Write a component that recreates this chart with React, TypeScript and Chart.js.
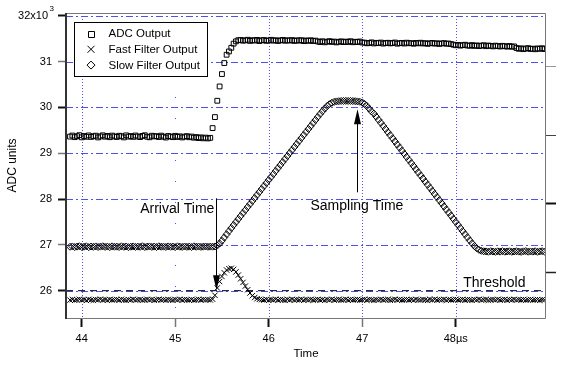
import React, { useEffect, useRef } from 'react';
import { Chart, registerables } from 'chart.js';

Chart.register(...registerables);

const FONT = '"Liberation Sans", Arial, Helvetica, sans-serif';
const GRID_BLUE = '#5050f0';

// sample clock of the digitiser (µs)
const T_START = 43.875;
const T_STEP = 0.025;

const ADC_OUTPUT = [
  29362, 29385, 29350, 29371, 29393, 29346, 29375, 29358, 29388, 29355,
  29370, 29382, 29344, 29366, 29390, 29360, 29376, 29349, 29384, 29365,
  29354, 29380, 29369, 29345, 29389, 29361, 29374, 29356, 29386, 29364,
  29351, 29377, 29391, 29359, 29347, 29381, 29366, 29372, 29353, 29383,
  29360, 29342, 29375, 29363, 29350, 29379, 29355, 29368, 29344, 29361,
  29372, 29348, 29363, 29338, 29352, 29330, 29345, 29325, 29340, 29322,
  29335,
  29548, 29788, 30144, 30456, 30727, 30967, 31148, 31220, 31300, 31390, 31440, 31465,
  31470, 31455, 31462, 31475, 31450, 31466, 31458, 31472, 31447, 31463,
  31469, 31452, 31460, 31474, 31456, 31465, 31449, 31461, 31471, 31454,
  31463, 31458, 31468, 31450, 31462, 31457, 31466, 31445, 31460, 31452,
  31464, 31448, 31456,
  31438, 31425, 31442, 31420, 31433, 31445, 31428, 31436, 31418, 31431,
  31440, 31424, 31435, 31427, 31443, 31421, 31432, 31426, 31437, 31415,
  31412, 31398, 31405, 31418, 31395, 31408, 31401, 31414, 31392, 31404,
  31409, 31396, 31403, 31415, 31390, 31400, 31407, 31393, 31411, 31399,
  31402, 31388, 31406, 31397, 31410, 31394, 31401, 31386, 31398, 31405,
  31391, 31399, 31384, 31396, 31402, 31388, 31393, 31380,
  31368, 31355, 31362, 31348, 31357, 31366, 31350, 31344, 31359, 31341,
  31352, 31338, 31347, 31356, 31335, 31349, 31342, 31331, 31346, 31337,
  31328, 31343, 31334, 31325, 31339, 31322, 31330,
  31295, 31278, 31288, 31270, 31284, 31292, 31274, 31281, 31268, 31286,
  31277, 31290, 31272,
];

const FAST_FILTER = [
  25795, 25808, 25790, 25802, 25812, 25797, 25805, 25788, 25810, 25799,
  25793, 25806, 25801, 25814, 25796, 25804, 25791, 25809, 25798, 25803,
  25807, 25794, 25811, 25800, 25789, 25805, 25798, 25812, 25795, 25803,
  25808, 25792, 25801, 25810, 25797, 25806, 25790, 25804, 25813, 25799,
  25802, 25795, 25809, 25800, 25791, 25807, 25798, 25811, 25794, 25805,
  25801, 25796, 25808, 25790, 25803, 25812, 25797, 25806, 25799, 25804,
  25800,
  25815, 25900, 26060, 26200, 26310, 26390, 26450, 26480, 26490, 26465,
  26410, 26340, 26260, 26180, 26100, 26020, 25950, 25890, 25850, 25825,
  25810,
  25803, 25796, 25810, 25792, 25805, 25799, 25812, 25794, 25807, 25801,
  25789, 25808, 25797, 25811, 25795, 25804, 25800, 25813, 25791, 25806,
  25798, 25809, 25793, 25802, 25810, 25796, 25805, 25790, 25807, 25799,
  25812, 25794, 25803, 25808, 25797, 25801, 25811, 25792, 25806, 25798,
  25804, 25809, 25795, 25800, 25813, 25793, 25807, 25802, 25790, 25805,
  25799, 25810, 25796, 25804, 25808, 25791, 25801, 25812, 25797, 25806,
  25794, 25803, 25809, 25798, 25805, 25792, 25811, 25800, 25796, 25807,
  25802, 25789, 25808, 25799, 25813, 25795, 25804, 25801, 25810, 25793,
  25806, 25798, 25803, 25811, 25797, 25800, 25809, 25794, 25805, 25802,
  25790, 25807, 25799, 25812, 25796, 25804, 25808, 25793, 25801, 25806,
  25798, 25810, 25795, 25803, 25809, 25792, 25805, 25800, 25811, 25797,
  25804, 25799, 25807, 25794, 25802, 25808, 25796, 25801, 25806, 25793,
  25803, 25798,
];

const SLOW_FILTER = [
  26958, 26965, 26952, 26962, 26970, 26955, 26960, 26968, 26950, 26963,
  26957, 26966, 26954, 26961, 26969, 26956, 26963, 26951, 26967, 26959,
  26962, 26953, 26968, 26958, 26964, 26950, 26960, 26966, 26955, 26962,
  26957, 26970, 26953, 26961, 26965, 26956, 26963, 26952, 26968, 26959,
  26961, 26954, 26966, 26958, 26963, 26951, 26967, 26960, 26955, 26964,
  26957, 26962, 26953, 26968, 26959, 26963, 26956, 26961, 26965, 26958,
  26962, 26960,
  26965, 26985, 27030, 27090, 27160, 27230, 27300, 27367, 27433, 27498,
  27564, 27629, 27695, 27760, 27826, 27891, 27957, 28022, 28088, 28153,
  28219, 28284, 28350, 28415, 28481, 28546, 28612, 28677, 28743, 28808,
  28874, 28939, 29005, 29070, 29136, 29201, 29267, 29332, 29398, 29463,
  29529, 29594, 29660, 29725, 29791, 29856, 29915, 29975, 30030, 30070,
  30100, 30120, 30130, 30135, 30140, 30140, 30142, 30140, 30141, 30138,
  30135, 30130, 30122, 30108, 30075, 30030, 29972, 29910, 29864, 29797,
  29729, 29662, 29594, 29527, 29459, 29392, 29324, 29257, 29189, 29122,
  29054, 28987, 28919, 28852, 28784, 28717, 28649, 28582, 28514, 28447,
  28379, 28312, 28244, 28177, 28109, 28042, 27974, 27907, 27839, 27772,
  27704, 27637, 27569, 27502, 27434, 27367, 27299, 27232, 27164, 27097,
  27035, 26975, 26925, 26890, 26870, 26860,
  26857, 26850, 26862, 26854, 26848, 26859, 26852, 26863, 26851, 26856,
  26860, 26849, 26855, 26861, 26853, 26847, 26858, 26864, 26850, 26856,
  26852, 26860, 26848, 26857, 26862, 26853,
];

const SERIES_LABELS = ['ADC Output', 'Fast Filter Output', 'Slow Filter Output'];
const THRESHOLD = 26000;
const X_TICKS = [44, 45, 46, 47, 48];
const Y_TICKS = [26000, 27000, 28000, 29000, 30000, 31000, 32000];
const RIGHT_TICKS = [1, 2, 3, 4];
const X_RANGE = [43.832, 48.966];
const Y_RANGE = [25404, 32059];
const RIGHT_RANGE = [0.333, 4.784];

// annotations in data coordinates
const ARRIVAL = { t: 45.44, from: 28016, to: 26010, text: 'Arrival Time', textY: 27690 };
const SAMPLING = { t: 46.948, from: 28147, to: 29958, text: 'Sampling Time', textT: 46.447, textY: 27760 };
const THRESHOLD_TEXT = { text: 'Threshold', t: 48.08, y: 26070 };

const times = ADC_OUTPUT.map((_, i) => +(T_START + i * T_STEP).toFixed(3));
const toPoints = (vals: number[]) => vals.map((v, i) => ({ x: times[i], y: v }));

function drawArrow(ctx: CanvasRenderingContext2D, x: number, yTail: number, yTip: number) {
  const dir = yTip > yTail ? 1 : -1;
  const xx = Math.round(x) + 0.5;
  ctx.strokeStyle = '#000';
  ctx.lineWidth = 1;
  ctx.setLineDash([]);
  ctx.beginPath();
  ctx.moveTo(xx, yTail);
  ctx.lineTo(xx, yTip - dir * 10);
  ctx.stroke();
  ctx.fillStyle = '#000';
  ctx.beginPath();
  ctx.moveTo(xx, yTip);
  ctx.lineTo(xx - 3.5, yTip - dir * 15);
  ctx.lineTo(xx + 3.5, yTip - dir * 15);
  ctx.closePath();
  ctx.fill();
}

// grid lines drawn from the scales' own tick positions
const gridPlugin = {
  id: 'dashGrid',
  beforeDatasetsDraw(chart: any) {
    const { ctx, chartArea } = chart;
    const { left, top, right, bottom } = chartArea;
    const xs = chart.scales.x;
    const ys = chart.scales.y;
    ctx.save();
    ctx.beginPath();
    ctx.rect(left, top, right - left, bottom - top);
    ctx.clip();
    ctx.strokeStyle = GRID_BLUE;
    ctx.lineWidth = 1;
    ctx.setLineDash([7, 3, 2, 3]);
    ctx.beginPath();
    ys.ticks.forEach((t: any) => {
      const py = Math.round(ys.getPixelForValue(t.value)) + 0.5;
      ctx.moveTo(left, py);
      ctx.lineTo(right, py);
    });
    ctx.stroke();
    xs.ticks.forEach((t: any) => {
      const px = Math.round(xs.getPixelForValue(t.value)) + 0.5;
      ctx.setLineDash(t.value === 45 ? [1, 20] : [1, 2]);
      ctx.beginPath();
      ctx.moveTo(px, top);
      ctx.lineTo(px, bottom);
      ctx.stroke();
    });
    ctx.restore();
  },
};

const overlayPlugin = {
  id: 'overlay',
  afterDraw(chart: any) {
    const { ctx, chartArea } = chart;
    const { left, top, right, bottom } = chartArea;
    const xs = chart.scales.x;
    const ys = chart.scales.y;
    ctx.save();
    ctx.setLineDash([]);

    // plot frame
    ctx.strokeStyle = '#777';
    ctx.lineWidth = 1;
    ctx.beginPath();
    ctx.moveTo(left, top + 0.5);
    ctx.lineTo(right - 0.5, top + 0.5);
    ctx.lineTo(right - 0.5, bottom + 0.5);
    ctx.lineTo(left, bottom + 0.5);
    ctx.stroke();
    ctx.strokeStyle = '#333';
    ctx.lineWidth = 2;
    ctx.beginPath();
    ctx.moveTo(left, top);
    ctx.lineTo(left, bottom + 1);
    ctx.stroke();

    // top tick label with exponent
    const py = ys.getPixelForValue(Y_TICKS[Y_TICKS.length - 1]);
    const labelRight = ys.right - 8 - 6 - 4;
    ctx.fillStyle = '#000';
    ctx.font = `11px ${FONT}`;
    ctx.textAlign = 'right';
    ctx.textBaseline = 'middle';
    ctx.fillText(String(Y_TICKS[Y_TICKS.length - 1] / 1000) + 'x10', labelRight, py);
    ctx.font = `8px ${FONT}`;
    ctx.textAlign = 'left';
    ctx.textBaseline = 'alphabetic';
    ctx.fillText('3', labelRight + 1.5, py - 5);

    // arrows and labels
    ctx.font = `14px ${FONT}`;
    const ax = xs.getPixelForValue(ARRIVAL.t);
    drawArrow(ctx, ax, ys.getPixelForValue(ARRIVAL.from), ys.getPixelForValue(ARRIVAL.to));
    ctx.fillStyle = '#000';
    ctx.textAlign = 'right';
    ctx.textBaseline = 'alphabetic';
    ctx.fillText(ARRIVAL.text, ax - 2, ys.getPixelForValue(ARRIVAL.textY));

    const sx = xs.getPixelForValue(SAMPLING.t);
    drawArrow(ctx, sx, ys.getPixelForValue(SAMPLING.from), ys.getPixelForValue(SAMPLING.to));
    ctx.textAlign = 'left';
    ctx.fillText(SAMPLING.text, xs.getPixelForValue(SAMPLING.textT), ys.getPixelForValue(SAMPLING.textY));

    ctx.fillText(THRESHOLD_TEXT.text, xs.getPixelForValue(THRESHOLD_TEXT.t), ys.getPixelForValue(THRESHOLD_TEXT.y));

    // legend
    const lx = left + 8.5;
    const ly = top + 9.5;
    const lw = 133;
    const lh = 54;
    ctx.fillStyle = '#fff';
    ctx.fillRect(lx, ly, lw, lh);
    ctx.strokeStyle = '#000';
    ctx.lineWidth = 1;
    ctx.strokeRect(lx, ly, lw, lh);
    ctx.font = `11.5px ${FONT}`;
    ctx.textAlign = 'left';
    ctx.textBaseline = 'middle';
    SERIES_LABELS.forEach((label, i) => {
      const cy = ly + 11 + i * 15.8;
      const cx = lx + 16.5;
      ctx.strokeStyle = '#000';
      ctx.lineWidth = 1;
      ctx.beginPath();
      if (i === 0) {
        ctx.rect(Math.round(cx) - 3 + 0.5, Math.round(cy) - 3 + 0.5, 6, 6);
      } else if (i === 1) {
        ctx.moveTo(cx - 3.5, cy - 3.5);
        ctx.lineTo(cx + 3.5, cy + 3.5);
        ctx.moveTo(cx + 3.5, cy - 3.5);
        ctx.lineTo(cx - 3.5, cy + 3.5);
      } else {
        ctx.moveTo(cx, cy - 4);
        ctx.lineTo(cx + 4, cy);
        ctx.lineTo(cx, cy + 4);
        ctx.lineTo(cx - 4, cy);
        ctx.closePath();
      }
      ctx.stroke();
      ctx.fillStyle = '#000';
      ctx.fillText(label, lx + 34, cy + 0.5);
    });

    ctx.restore();
  },
};

const tickStyle = (isMajor: (v: number) => boolean) => ({
  tickColor: (c: any) => (c.tick && isMajor(c.tick.value) ? '#111' : '#777'),
  tickWidth: (c: any) => (c.tick && isMajor(c.tick.value) ? 2 : 1.5),
});

export default function App() {
  const ref = useRef<HTMLCanvasElement | null>(null);

  useEffect(() => {
    if (!ref.current) return;
    const marker = {
      pointBorderColor: '#000',
      pointBackgroundColor: 'rgba(0,0,0,0)',
      pointBorderWidth: 1,
      borderColor: '#000',
      showLine: false,
    };
    const chart = new Chart(ref.current, {
      type: 'scatter',
      data: {
        datasets: [
          { label: 'Threshold', data: [{ x: X_RANGE[0], y: THRESHOLD }, { x: X_RANGE[1], y: THRESHOLD }], showLine: true, pointRadius: 0, borderColor: '#000', borderWidth: 1, borderDash: [7, 5] } as any,
          { ...marker, label: SERIES_LABELS[0], data: toPoints(ADC_OUTPUT), pointStyle: 'rect', pointRadius: 3.4 },
          { ...marker, label: SERIES_LABELS[1], data: toPoints(FAST_FILTER), pointStyle: 'crossRot', pointRadius: 3.8 },
          { ...marker, label: SERIES_LABELS[2], data: toPoints(SLOW_FILTER), pointStyle: 'rectRot', pointRadius: 3.5 },
        ],
      },
      options: {
        responsive: false,
        animation: false,
        devicePixelRatio: 1,
        events: [],
        layout: { padding: { top: 13, left: 0, right: 0, bottom: 0 } },
        plugins: { legend: { display: false }, tooltip: { enabled: false } },
        scales: {
          x: {
            type: 'linear',
            position: 'bottom',
            min: X_RANGE[0],
            max: X_RANGE[1],
            afterBuildTicks: (s: any) => { s.ticks = X_TICKS.map((v) => ({ value: v })); },
            afterFit: (s: any) => { s.height = 47; },
            ticks: {
              font: { family: FONT, size: 11 },
              color: '#000',
              padding: 5,
              maxRotation: 0,
              autoSkip: false,
              callback: (v: any) => (v === 48 ? '48µs' : String(v)),
            },
            grid: { drawOnChartArea: false, tickLength: 9, ...tickStyle((v) => v % 2 === 0) },
            border: { display: false },
            title: { display: true, text: 'Time', font: { family: FONT, size: 11.5 }, color: '#000', padding: { top: 0, bottom: 4 } },
          },
          y: {
            type: 'linear',
            position: 'left',
            min: Y_RANGE[0],
            max: Y_RANGE[1],
            afterBuildTicks: (s: any) => { s.ticks = Y_TICKS.map((v) => ({ value: v })); },
            afterFit: (s: any) => { s.width = 66; },
            ticks: {
              font: { family: FONT, size: 11 },
              color: '#000',
              padding: 6,
              callback: (v: any) => (v === Y_TICKS[Y_TICKS.length - 1] ? '' : String(v / 1000)),
            },
            grid: { drawOnChartArea: false, tickLength: 8, ...tickStyle((v) => v % 2000 === 0) },
            border: { display: false },
            title: { display: true, text: 'ADC units', font: { family: FONT, size: 12 }, color: '#000', padding: { top: 5, bottom: 0 } },
          },
          y2: {
            type: 'linear',
            position: 'right',
            min: RIGHT_RANGE[0],
            max: RIGHT_RANGE[1],
            afterBuildTicks: (s: any) => { s.ticks = RIGHT_TICKS.map((v) => ({ value: v })); },
            afterFit: (s: any) => { s.width = 19; },
            ticks: { display: false },
            grid: {
              drawOnChartArea: false,
              tickLength: 10,
              tickColor: (c: any) => ['#222', '#111', '#444', '#999'][c.index] || '#444',
              tickWidth: (c: any) => [1.5, 2, 1, 1][c.index] || 1,
            },
            border: { display: false },
          },
        },
      } as any,
      plugins: [gridPlugin as any, overlayPlugin as any],
    });
    return () => chart.destroy();
  }, []);

  return (
    <div style={{ position: 'absolute', left: 0, top: 0, width: 565, height: 365, background: '#fff' }}>
      <canvas ref={ref} width={565} height={365} style={{ display: 'block' }} />
    </div>
  );
}
